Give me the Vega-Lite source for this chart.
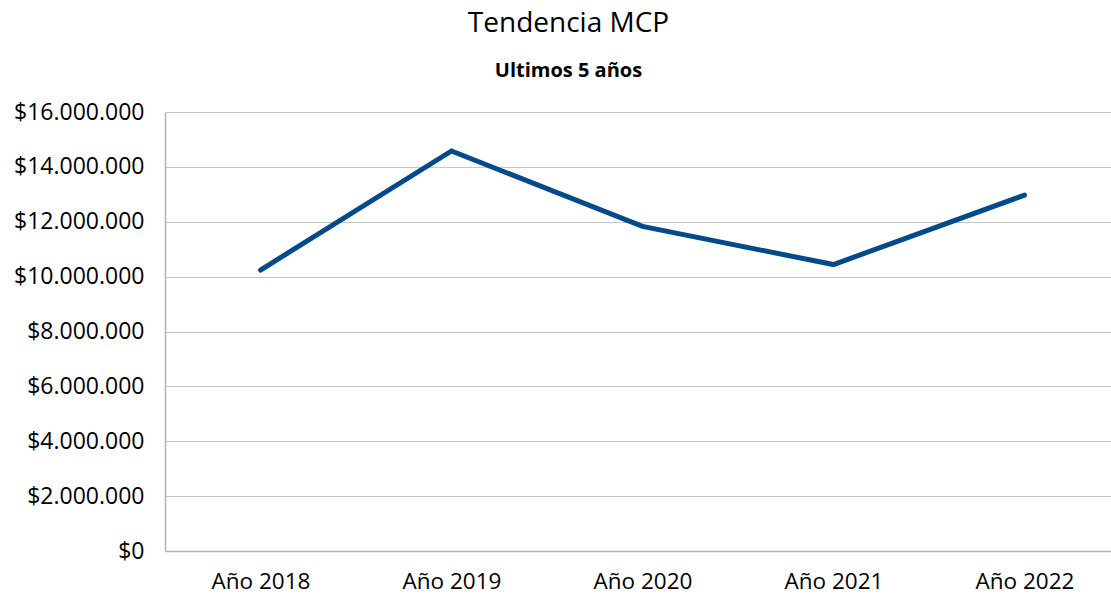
{
  "$schema": "https://vega.github.io/schema/vega-lite/v6.json",
  "autosize": {"type": "none"},
  "padding": {"left": 165, "top": 112, "right": 0, "bottom": 49},
  "width": 955,
  "height": 439,
  "background": "white",
  "title": {
    "text": "Tendencia MCP",
    "subtitle": "Ultimos 5 años",
    "anchor": "middle",
    "dx": -74,
    "font": "Open Sans",
    "fontSize": 28,
    "fontWeight": "normal",
    "color": "#000000",
    "subtitleFont": "Open Sans",
    "subtitleFontSize": 20,
    "subtitleFontWeight": "bold",
    "subtitleColor": "#000000",
    "subtitlePadding": 23,
    "offset": 20
  },
  "config": {
    "locale": {
      "number": {"decimal": ",", "thousands": ".", "grouping": [3], "currency": ["$", ""]}
    },
    "view": {"stroke": null}
  },
  "data": {
    "values": [
      {"year": "Año 2018", "value": 10240000},
      {"year": "Año 2019", "value": 14580000},
      {"year": "Año 2020", "value": 11830000},
      {"year": "Año 2021", "value": 10440000},
      {"year": "Año 2022", "value": 12970000}
    ]
  },
  "mark": {"type": "line", "color": "#034a8a", "strokeWidth": 5, "strokeCap": "round", "strokeJoin": "miter"},
  "encoding": {
    "x": {
      "field": "year",
      "type": "ordinal",
      "scale": {"padding": 0.5},
      "axis": {
        "title": null,
        "labelAngle": 0,
        "ticks": false,
        "grid": false,
        "domainColor": "#b3b3b3",
        "domainWidth": 1.5,
        "labelFont": "Open Sans",
        "labelFontSize": 22.5,
        "labelColor": "#000000",
        "labelPadding": 19
      }
    },
    "y": {
      "field": "value",
      "type": "quantitative",
      "scale": {"domain": [0, 16000000], "nice": false},
      "axis": {
        "title": null,
        "values": [0, 2000000, 4000000, 6000000, 8000000, 10000000, 12000000, 14000000, 16000000],
        "format": "$,.0f",
        "ticks": false,
        "grid": true,
        "gridColor": "#c6c6c6",
        "gridWidth": 1.2,
        "domainColor": "#b3b3b3",
        "domainWidth": 1.5,
        "labelFont": "Open Sans",
        "labelFontSize": 23,
        "labelColor": "#000000",
        "labelPadding": 21
      }
    }
  }
}
